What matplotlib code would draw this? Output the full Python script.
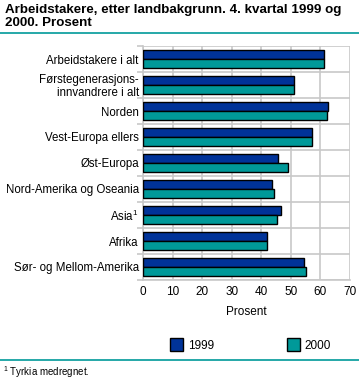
import matplotlib
matplotlib.use("Agg")
import matplotlib.pyplot as plt
from matplotlib.patches import Patch
from matplotlib.lines import Line2D
import numpy as np

categories = ["Arbeidstakere i alt", "Førstegenerasjons-\ninnvandrere i alt", "Norden",
              "Vest-Europa ellers", "Øst-Europa", "Nord-Amerika og Oseania",
              "Asia$^{1}$", "Afrika", "Sør- og Mellom-Amerika"]
v1999 = [61.3, 51.1, 62.7, 57.2, 45.5, 43.7, 46.5, 41.8, 54.6]
v2000 = [61.3, 51.1, 62.3, 57.2, 49.1, 44.4, 45.4, 42.0, 55.0]
series_labels = ["1999", "2000"]
xticks = [0, 10, 20, 30, 40, 50, 60, 70]

c1999 = "#003399"
c2000 = "#009999"
grid = "#c8c8c8"
plt.rcParams['font.family'] = ['Liberation Sans', 'DejaVu Sans']
plt.rcParams['mathtext.fontset'] = 'custom'
plt.rcParams['mathtext.rm'] = 'Liberation Sans'

W, H = 359, 380
fig = plt.figure(figsize=(W/100, H/100), dpi=100)
ax = fig.add_axes([143/W, 1-280/H, 207/W, 234/H])

y = np.arange(len(categories))
bh = 0.345
ax.barh(y - bh/2, v1999, height=bh, color=c1999, edgecolor="black", linewidth=1.0, zorder=3, label=series_labels[0])
ax.barh(y + bh/2, v2000, height=bh, color=c2000, edgecolor="black", linewidth=1.0, zorder=3, label=series_labels[1])

ax.set_xlim(0, 70)
ax.set_ylim(len(categories)-0.5, -0.5)
ax.set_xticks(xticks)
ax.set_xticklabels([str(t) for t in xticks], fontsize=8.5)
ax.set_yticks(y)
ax.set_yticklabels(categories, fontsize=8.3, linespacing=1.0)
ax.set_yticks(np.arange(len(categories)+1) - 0.5, minor=True)
ax.tick_params(axis="y", which="major", length=0, pad=3)
ax.tick_params(axis="y", which="minor", length=4, color=grid, width=1.2)
ax.tick_params(axis="x", which="major", length=0, pad=4)
ax.grid(True, axis="x", which="major", color=grid, linewidth=1.2, zorder=0)
ax.grid(True, axis="y", which="minor", color=grid, linewidth=1.2, zorder=0)
for s in ["top", "right"]:
    ax.spines[s].set_visible(False)
for s in ["left", "bottom"]:
    ax.spines[s].set_color(grid)
    ax.spines[s].set_linewidth(1.2)
ax.set_xlabel("Prosent", fontsize=8.5, labelpad=6)

fig.text(5/W, 1-4/H, "Arbeidstakere, etter landbakgrunn. 4. kvartal 1999 og\n2000. Prosent",
         ha="left", va="top", fontsize=9.6, fontweight="bold", linespacing=1.1)
fig.add_artist(Line2D([0, 1], [1-33/H, 1-33/H], color=c2000, linewidth=1.2, transform=fig.transFigure))
fig.add_artist(Line2D([0, 1], [1-360/H, 1-360/H], color=c2000, linewidth=1.2, transform=fig.transFigure))

h = [Patch(facecolor=c1999, edgecolor="black"), Patch(facecolor=c2000, edgecolor="black")]
fig.legend(h, series_labels, loc="center left", bbox_to_anchor=(170/W, 1-345/H), ncol=2,
           frameon=False, fontsize=8.5, handlelength=1.1, handleheight=1.3, columnspacing=6.2,
           handletextpad=0.4, borderaxespad=0, borderpad=0)

fig.text(3/W, 1-372/H, "$^{1}$ Tyrkia medregnet.", ha="left", va="center", fontsize=7)

fig.savefig("out.png", dpi=100)
